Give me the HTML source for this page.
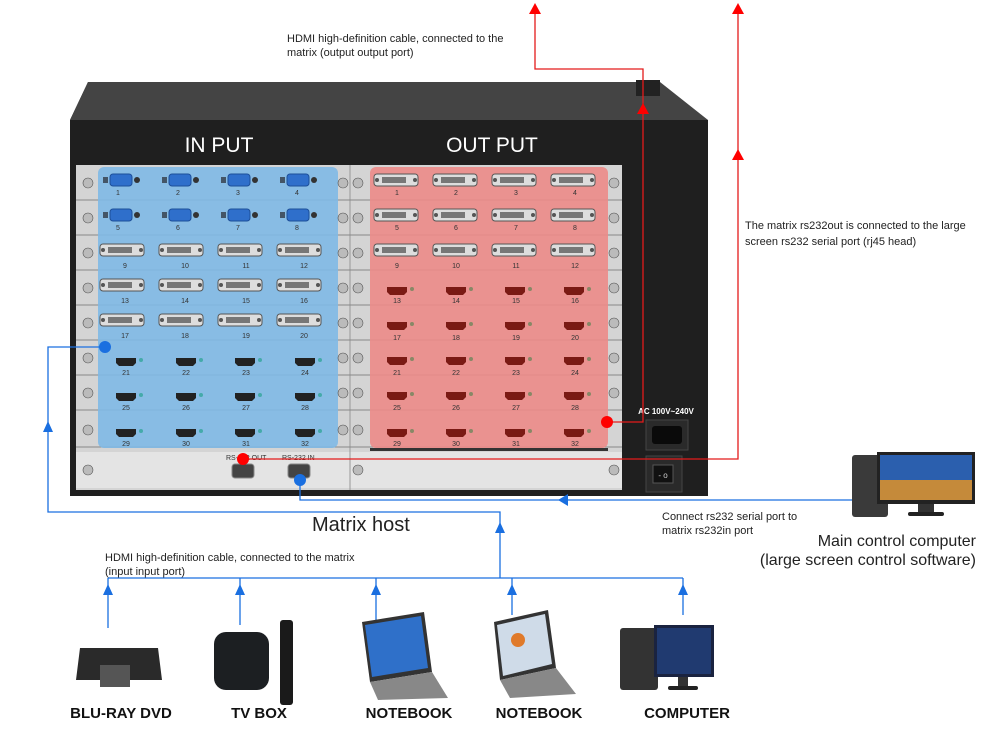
<!DOCTYPE html>
<html><head><meta charset="utf-8"><style>
body{margin:0;background:#fff;}
svg{display:block;font-family:"Liberation Sans",sans-serif;}
</style></head><body>
<svg width="1000" height="746" viewBox="0 0 1000 746" xmlns="http://www.w3.org/2000/svg">
<defs>
<symbol id="vga" viewBox="0 0 40 14"><rect x="1" y="4" width="5" height="6" fill="#456"/><rect x="8" y="1" width="22" height="12" rx="3" fill="#2f6fcb" stroke="#1d4f99"/><circle cx="35" cy="7" r="3" fill="#333"/></symbol>
<symbol id="dvi" viewBox="0 0 46 14"><rect x="1" y="1" width="44" height="12" rx="3" fill="#ddd" stroke="#555"/><rect x="9" y="4" width="24" height="6" fill="#777"/><circle cx="4" cy="7" r="2" fill="#555"/><circle cx="42" cy="7" r="2" fill="#555"/></symbol>
<symbol id="hdmi" viewBox="0 0 28 10"><path d="M1 1H21V6L18 9H4L1 6Z" fill="#222"/><circle cx="26" cy="3" r="2" fill="#4aa"/></symbol>
<symbol id="hdmr" viewBox="0 0 28 10"><path d="M1 1H21V6L18 9H4L1 6Z" fill="#7a1a14"/><circle cx="26" cy="3" r="2" fill="#886"/></symbol>
<marker id="ab" viewBox="0 0 10 10" refX="5" refY="2" markerWidth="12" markerHeight="12" orient="auto-start-reverse" markerUnits="userSpaceOnUse"><path d="M0 10L5 0L10 10Z" fill="#1a6fe0"/></marker>
</defs>

<!-- chassis -->
<path d="M88 82H660V120H70Z" fill="#3a3a3a"/>
<path d="M88 82L70 120H708L660 82Z" fill="#444"/>
<rect x="636" y="80" width="24" height="16" fill="#222"/>
<rect x="70" y="120" width="638" height="376" fill="#1f1f1f"/>
<text x="219" y="152" fill="#fff" font-size="21" text-anchor="middle">IN PUT</text>
<text x="492" y="152" fill="#fff" font-size="21" text-anchor="middle">OUT PUT</text>
<rect x="76" y="165" width="546" height="325" fill="#d4d4d4"/>
<rect x="76" y="452" width="546" height="36" fill="#e4e4e4"/>
<line x1="350" y1="165" x2="350" y2="490" stroke="#999"/>
<g stroke="#888" stroke-width="1">
<line x1="76" y1="200" x2="622" y2="200"/><line x1="76" y1="235" x2="622" y2="235"/><line x1="76" y1="270" x2="622" y2="270"/><line x1="76" y1="305" x2="622" y2="305"/><line x1="76" y1="340" x2="622" y2="340"/><line x1="76" y1="375" x2="622" y2="375"/><line x1="76" y1="410" x2="622" y2="410"/><line x1="76" y1="447" x2="622" y2="447"/>
</g>
<rect x="98" y="167" width="240" height="281" rx="6" fill="#7fb9e6" opacity="0.9"/>
<rect x="370" y="167" width="238" height="281" rx="6" fill="#ec8b88" opacity="0.9"/>
<g stroke="#555" stroke-width="0.6" fill="#bbb">
<circle cx="88" cy="183" r="5"/><circle cx="88" cy="218" r="5"/><circle cx="88" cy="253" r="5"/><circle cx="88" cy="288" r="5"/><circle cx="88" cy="323" r="5"/><circle cx="88" cy="358" r="5"/><circle cx="88" cy="393" r="5"/><circle cx="88" cy="430" r="5"/><circle cx="88" cy="470" r="5"/>
<circle cx="343" cy="183" r="5"/><circle cx="343" cy="218" r="5"/><circle cx="343" cy="253" r="5"/><circle cx="343" cy="288" r="5"/><circle cx="343" cy="323" r="5"/><circle cx="343" cy="358" r="5"/><circle cx="343" cy="393" r="5"/><circle cx="343" cy="430" r="5"/>
<circle cx="358" cy="183" r="5"/><circle cx="358" cy="218" r="5"/><circle cx="358" cy="253" r="5"/><circle cx="358" cy="288" r="5"/><circle cx="358" cy="323" r="5"/><circle cx="358" cy="358" r="5"/><circle cx="358" cy="393" r="5"/><circle cx="358" cy="430" r="5"/><circle cx="358" cy="470" r="5"/>
<circle cx="614" cy="183" r="5"/><circle cx="614" cy="218" r="5"/><circle cx="614" cy="253" r="5"/><circle cx="614" cy="288" r="5"/><circle cx="614" cy="323" r="5"/><circle cx="614" cy="358" r="5"/><circle cx="614" cy="393" r="5"/><circle cx="614" cy="470" r="5"/>
</g>
<!-- input connectors -->
<g>
<use href="#vga" x="102" y="173" width="40" height="14"/><use href="#vga" x="161" y="173" width="40" height="14"/><use href="#vga" x="220" y="173" width="40" height="14"/><use href="#vga" x="279" y="173" width="40" height="14"/>
<use href="#vga" x="102" y="208" width="40" height="14"/><use href="#vga" x="161" y="208" width="40" height="14"/><use href="#vga" x="220" y="208" width="40" height="14"/><use href="#vga" x="279" y="208" width="40" height="14"/>
<use href="#dvi" x="99" y="243" width="46" height="14"/><use href="#dvi" x="158" y="243" width="46" height="14"/><use href="#dvi" x="217" y="243" width="46" height="14"/><use href="#dvi" x="276" y="243" width="46" height="14"/>
<use href="#dvi" x="99" y="278" width="46" height="14"/><use href="#dvi" x="158" y="278" width="46" height="14"/><use href="#dvi" x="217" y="278" width="46" height="14"/><use href="#dvi" x="276" y="278" width="46" height="14"/>
<use href="#dvi" x="99" y="313" width="46" height="14"/><use href="#dvi" x="158" y="313" width="46" height="14"/><use href="#dvi" x="217" y="313" width="46" height="14"/><use href="#dvi" x="276" y="313" width="46" height="14"/>
<use href="#hdmi" x="115" y="357" width="28" height="10"/><use href="#hdmi" x="175" y="357" width="28" height="10"/><use href="#hdmi" x="234" y="357" width="28" height="10"/><use href="#hdmi" x="294" y="357" width="28" height="10"/>
<use href="#hdmi" x="115" y="392" width="28" height="10"/><use href="#hdmi" x="175" y="392" width="28" height="10"/><use href="#hdmi" x="234" y="392" width="28" height="10"/><use href="#hdmi" x="294" y="392" width="28" height="10"/>
<use href="#hdmi" x="115" y="428" width="28" height="10"/><use href="#hdmi" x="175" y="428" width="28" height="10"/><use href="#hdmi" x="234" y="428" width="28" height="10"/><use href="#hdmi" x="294" y="428" width="28" height="10"/>
</g>
<!-- output connectors -->
<g>
<use href="#dvi" x="373" y="173" width="46" height="14"/><use href="#dvi" x="432" y="173" width="46" height="14"/><use href="#dvi" x="491" y="173" width="46" height="14"/><use href="#dvi" x="550" y="173" width="46" height="14"/>
<use href="#dvi" x="373" y="208" width="46" height="14"/><use href="#dvi" x="432" y="208" width="46" height="14"/><use href="#dvi" x="491" y="208" width="46" height="14"/><use href="#dvi" x="550" y="208" width="46" height="14"/>
<use href="#dvi" x="373" y="243" width="46" height="14"/><use href="#dvi" x="432" y="243" width="46" height="14"/><use href="#dvi" x="491" y="243" width="46" height="14"/><use href="#dvi" x="550" y="243" width="46" height="14"/>
<use href="#hdmr" x="386" y="286" width="28" height="10"/><use href="#hdmr" x="445" y="286" width="28" height="10"/><use href="#hdmr" x="504" y="286" width="28" height="10"/><use href="#hdmr" x="563" y="286" width="28" height="10"/>
<use href="#hdmr" x="386" y="321" width="28" height="10"/><use href="#hdmr" x="445" y="321" width="28" height="10"/><use href="#hdmr" x="504" y="321" width="28" height="10"/><use href="#hdmr" x="563" y="321" width="28" height="10"/>
<use href="#hdmr" x="386" y="356" width="28" height="10"/><use href="#hdmr" x="445" y="356" width="28" height="10"/><use href="#hdmr" x="504" y="356" width="28" height="10"/><use href="#hdmr" x="563" y="356" width="28" height="10"/>
<use href="#hdmr" x="386" y="391" width="28" height="10"/><use href="#hdmr" x="445" y="391" width="28" height="10"/><use href="#hdmr" x="504" y="391" width="28" height="10"/><use href="#hdmr" x="563" y="391" width="28" height="10"/>
<use href="#hdmr" x="386" y="428" width="28" height="10"/><use href="#hdmr" x="445" y="428" width="28" height="10"/><use href="#hdmr" x="504" y="428" width="28" height="10"/><use href="#hdmr" x="563" y="428" width="28" height="10"/>
</g>
<g font-size="7" fill="#333" text-anchor="middle">
<text x="118" y="195">1</text><text x="178" y="195">2</text><text x="238" y="195">3</text><text x="297" y="195">4</text>
<text x="118" y="230">5</text><text x="178" y="230">6</text><text x="238" y="230">7</text><text x="297" y="230">8</text>
<text x="125" y="268">9</text><text x="185" y="268">10</text><text x="246" y="268">11</text><text x="304" y="268">12</text>
<text x="125" y="303">13</text><text x="185" y="303">14</text><text x="246" y="303">15</text><text x="304" y="303">16</text>
<text x="125" y="338">17</text><text x="185" y="338">18</text><text x="246" y="338">19</text><text x="304" y="338">20</text>
<text x="126" y="375">21</text><text x="186" y="375">22</text><text x="246" y="375">23</text><text x="305" y="375">24</text>
<text x="126" y="410">25</text><text x="186" y="410">26</text><text x="246" y="410">27</text><text x="305" y="410">28</text>
<text x="126" y="446">29</text><text x="186" y="446">30</text><text x="246" y="446">31</text><text x="305" y="446">32</text>
<text x="397" y="195">1</text><text x="456" y="195">2</text><text x="516" y="195">3</text><text x="575" y="195">4</text>
<text x="397" y="230">5</text><text x="456" y="230">6</text><text x="516" y="230">7</text><text x="575" y="230">8</text>
<text x="397" y="268">9</text><text x="456" y="268">10</text><text x="516" y="268">11</text><text x="575" y="268">12</text>
<text x="397" y="303">13</text><text x="456" y="303">14</text><text x="516" y="303">15</text><text x="575" y="303">16</text>
<text x="397" y="340">17</text><text x="456" y="340">18</text><text x="516" y="340">19</text><text x="575" y="340">20</text>
<text x="397" y="375">21</text><text x="456" y="375">22</text><text x="516" y="375">23</text><text x="575" y="375">24</text>
<text x="397" y="410">25</text><text x="456" y="410">26</text><text x="516" y="410">27</text><text x="575" y="410">28</text>
<text x="397" y="446">29</text><text x="456" y="446">30</text><text x="516" y="446">31</text><text x="575" y="446">32</text>
</g>
<rect x="370" y="448" width="238" height="3" fill="#333"/>
<!-- RS232 -->
<text x="226" y="460" font-size="7" fill="#333">RS-232 OUT</text>
<text x="282" y="460" font-size="7" fill="#333">RS-232 IN</text>
<rect x="232" y="464" width="22" height="14" rx="3" fill="#444" stroke="#888"/>
<rect x="288" y="464" width="22" height="14" rx="3" fill="#444" stroke="#888"/>
<!-- power -->
<text x="666" y="414" font-size="8" font-weight="bold" fill="#fff" text-anchor="middle">AC 100V~240V</text>
<rect x="646" y="420" width="42" height="30" fill="#2a2a2a" stroke="#444"/>
<rect x="652" y="426" width="30" height="18" rx="3" fill="#0a0a0a"/>
<rect x="646" y="456" width="36" height="36" fill="#2a2a2a" stroke="#444"/>
<rect x="653" y="465" width="20" height="18" fill="#111" stroke="#555"/>
<text x="663" y="478" font-size="8" fill="#ccc" text-anchor="middle">- o</text>

<!-- red lines -->
<g stroke="#e31b1b" stroke-width="1.3" fill="none">
<polyline points="607,422 643,422 643,69 535,69 535,8"/>
<polyline points="243,459 738,459 738,8"/>
</g>
<g fill="#f00">
<path d="M529 14L535 3L541 14Z"/><path d="M732 14L738 3L744 14Z"/><path d="M732 160L738 149L744 160Z"/><path d="M637 114L643 103L649 114Z"/>
<circle cx="607" cy="422" r="6"/><circle cx="243" cy="459" r="6"/>
</g>
<!-- blue lines -->
<g stroke="#1a6fe0" stroke-width="1.3" fill="none">
<polyline points="105,347 48,347 48,512 500,512 500,578"/>
<polyline points="300,480 300,500 853,500"/>
<polyline points="108,578 683,578"/>
<line x1="108" y1="578" x2="108" y2="628"/><line x1="240" y1="578" x2="240" y2="625"/><line x1="376" y1="578" x2="376" y2="620"/><line x1="512" y1="578" x2="512" y2="615"/><line x1="683" y1="578" x2="683" y2="615"/>
</g>
<g fill="#1a6fe0">
<circle cx="105" cy="347" r="6"/><circle cx="300" cy="480" r="6"/>
<path d="M43 432L48 421L53 432Z"/><path d="M495 533L500 522L505 533Z"/>
<path d="M558 500L568 494L568 506Z"/>
<path d="M103 595L108 584L113 595Z"/><path d="M235 595L240 584L245 595Z"/><path d="M371 595L376 584L381 595Z"/><path d="M507 595L512 584L517 595Z"/><path d="M678 595L683 584L688 595Z"/>
</g>

<!-- texts -->
<g fill="#222" font-size="11">
<text x="287" y="42">HDMI high-definition cable, connected to the</text>
<text x="287" y="56">matrix (output output port)</text>
<text x="745" y="229">The matrix rs232out is connected to the large</text>
<text x="745" y="245">screen rs232 serial port (rj45 head)</text>
<text x="662" y="520">Connect rs232 serial port to</text>
<text x="662" y="534">matrix rs232in port</text>
<text x="105" y="561">HDMI high-definition cable, connected to the matrix</text>
<text x="105" y="575">(input input port)</text>
</g>
<text x="312" y="531" font-size="20" fill="#222">Matrix host</text>
<text x="976" y="546" font-size="16" fill="#222" text-anchor="end">Main control computer</text>
<text x="976" y="565" font-size="16" fill="#222" text-anchor="end">(large screen control software)</text>
<g font-size="15" font-weight="bold" fill="#111" text-anchor="middle">
<text x="121" y="718">BLU-RAY DVD</text><text x="259" y="718">TV BOX</text><text x="409" y="718">NOTEBOOK</text><text x="539" y="718">NOTEBOOK</text><text x="687" y="718">COMPUTER</text>
</g>

<!-- main computer -->
<rect x="852" y="455" width="36" height="62" rx="3" fill="#3a3a3a"/>
<rect x="877" y="452" width="98" height="52" fill="#222"/>
<rect x="880" y="455" width="92" height="45" fill="#2b5fae"/>
<rect x="880" y="480" width="92" height="20" fill="#c58a3a"/>
<rect x="918" y="504" width="16" height="8" fill="#333"/><rect x="908" y="512" width="36" height="4" rx="2" fill="#222"/>

<!-- devices -->
<path d="M80 648H158L162 680H76Z" fill="#2a2a2a"/><rect x="100" y="665" width="30" height="22" fill="#555"/>
<rect x="214" y="632" width="55" height="58" rx="12" fill="#1c1f22"/>
<rect x="280" y="620" width="13" height="85" rx="3" fill="#1a1a1a"/>
<path d="M362 622L424 612L432 672L370 682Z" fill="#333"/><path d="M365 625L421 616L428 668L372 677Z" fill="#2f70c9"/>
<path d="M370 682L432 672L448 698L378 700Z" fill="#888"/>
<path d="M494 622L548 610L556 668L500 680Z" fill="#333"/><path d="M497 625L545 614L552 664L503 676Z" fill="#cfdbe8"/><circle cx="518" cy="640" r="7" fill="#e07a2a"/>
<path d="M500 680L556 668L576 694L510 698Z" fill="#888"/>
<rect x="620" y="628" width="38" height="62" rx="3" fill="#333"/>
<rect x="654" y="625" width="60" height="52" fill="#1a2340"/><rect x="657" y="628" width="54" height="46" fill="#203a70"/>
<rect x="678" y="677" width="10" height="10" fill="#333"/><rect x="668" y="686" width="30" height="4" rx="2" fill="#222"/>
</svg>
</body></html>
